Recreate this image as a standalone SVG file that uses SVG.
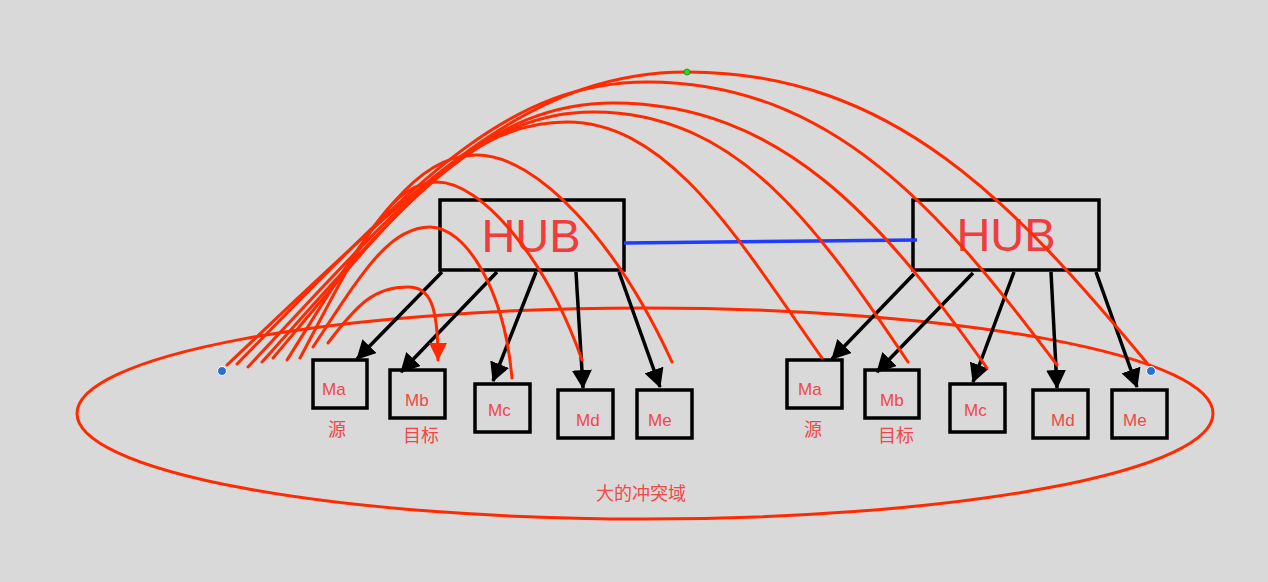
<svg xmlns="http://www.w3.org/2000/svg" width="1268" height="582" viewBox="0 0 1268 582">
<defs>
<style>
.bg{fill:#d9d9d9}
.hub{fill:none;stroke:#000;stroke-width:3.5}
.box{fill:none;stroke:#000;stroke-width:3.5}
.hubt{font-family:"Liberation Sans",Arial,sans-serif;font-size:47px;fill:#f03c3c;text-anchor:middle}
.bt{font-family:"Liberation Sans",Arial,sans-serif;font-size:17px;fill:#f04848}
.lbl{font-family:"Liberation Sans","Noto Sans CJK SC",sans-serif;font-size:18px;fill:#f04848;text-anchor:middle}
.arc{fill:none;stroke:#ff2a00;stroke-width:3;stroke-linecap:round}
.blk{fill:none;stroke:#000;stroke-width:3.5;marker-end:url(#ah)}
</style>
<marker id="ah" markerUnits="userSpaceOnUse" markerWidth="20" markerHeight="20" refX="18" refY="10" orient="auto" viewBox="0 0 20 20">
<path d="M0,0 L19,10 L0,20 z" fill="#000"/>
</marker>
<marker id="rh" markerUnits="userSpaceOnUse" markerWidth="18" markerHeight="18" refX="17" refY="9" orient="auto" viewBox="0 0 18 18">
<path d="M0,0 L18,9 L0,18 z" fill="#ff2a00"/>
</marker>
</defs>
<rect class="bg" x="0" y="0" width="1268" height="582"/>

<g id="domain">
<ellipse cx="645" cy="413.5" rx="568" ry="105.5" fill="none" stroke="#ff2a00" stroke-width="3"/>
<text x="641" y="500" class="lbl" font-size="19">大的冲突域</text>
</g>

<g id="hub1">
<rect class="hub" x="440" y="200" width="184" height="70"/>
<text class="hubt" x="531" y="252">HUB</text>
</g>
<g id="hub2">
<rect class="hub" x="913" y="200" width="186" height="70"/>
<text class="hubt" x="1006" y="251">HUB</text>
</g>

<g id="l-ma"><rect class="box" x="313" y="360" width="54" height="48"/><text class="bt" x="322" y="395">Ma</text><text class="lbl" x="337" y="436">源</text></g>
<g id="l-mb"><rect class="box" x="390" y="370" width="55" height="48"/><text class="bt" x="405" y="406">Mb</text><text class="lbl" x="421" y="442">目标</text></g>
<g id="l-mc"><rect class="box" x="475" y="384" width="55" height="48"/><text class="bt" x="488" y="416">Mc</text></g>
<g id="l-md"><rect class="box" x="558" y="390" width="55" height="48"/><text class="bt" x="576" y="426">Md</text></g>
<g id="l-me"><rect class="box" x="637" y="390" width="55" height="48"/><text class="bt" x="648" y="426">Me</text></g>

<g id="r-ma"><rect class="box" x="787" y="360" width="55" height="48"/><text class="bt" x="798" y="395">Ma</text><text class="lbl" x="813" y="436">源</text></g>
<g id="r-mb"><rect class="box" x="865" y="370" width="54" height="48"/><text class="bt" x="880" y="406">Mb</text><text class="lbl" x="896" y="442">目标</text></g>
<g id="r-mc"><rect class="box" x="950" y="384" width="55" height="48"/><text class="bt" x="964" y="416">Mc</text></g>
<g id="r-md"><rect class="box" x="1033" y="390" width="55" height="48"/><text class="bt" x="1051" y="426">Md</text></g>
<g id="r-me"><rect class="box" x="1112" y="390" width="55" height="48"/><text class="bt" x="1123" y="426">Me</text></g>

<g id="connectors">
<line x1="624" y1="243" x2="917" y2="240" stroke="#1f3cff" stroke-width="3.5"/>
<line class="blk" x1="442" y1="272" x2="357" y2="359"/>
<line class="blk" x1="497" y1="272" x2="401" y2="372"/>
<line class="blk" x1="536" y1="272" x2="493" y2="381"/>
<line class="blk" x1="576" y1="272" x2="583" y2="388"/>
<line class="blk" x1="619" y1="272" x2="660" y2="387"/>
<line class="blk" x1="914" y1="274" x2="832" y2="359"/>
<line class="blk" x1="973" y1="273" x2="877" y2="372"/>
<line class="blk" x1="1014" y1="272" x2="973" y2="382"/>
<line class="blk" x1="1051" y1="272" x2="1057" y2="388"/>
<line class="blk" x1="1096" y1="272" x2="1137" y2="387"/>

<path class="arc" d="M227,365 C420,183 526,72 687,72 C894,72 1015,205 1147,363"/>
<path class="arc" d="M237,364 C409,189 503,82 647,82 C832,82 942,212 1057,365"/>
<path class="arc" d="M248,367 C401,203 485,103 613,103 C781,103 882,220 987,368"/>
<path class="arc" d="M262,362 C401,207 477,112 593,112 C738,112 818,228 908,362"/>
<path class="arc" d="M273,358 C396,212 464,122 567,122 C670,122 740,242 822,358"/>
<path class="arc" d="M287,360 C367,233 411,155 477,155 C537,155 617,242 672,362"/>
<path class="arc" d="M300,358 C358,249 389,182 437,182 C482,182 547,260 582,360"/>
<path class="arc" d="M313,347 C362,273 389,227 430,227 C465,227 504,288 512,378"/>
<path class="arc" d="M328,343 C358,303 375,287 408,287 C430,287 438,305 438,360" marker-end="url(#rh)"/>

<circle cx="222" cy="371" r="4.5" fill="#2a6fd6" stroke="#fff" stroke-width="1"/>
<circle cx="1151" cy="371" r="4.5" fill="#2a6fd6" stroke="#fff" stroke-width="1"/>
<circle cx="687" cy="72" r="3" fill="#22dd22" stroke="#118811" stroke-width="0.8"/>
</g>
</svg>
